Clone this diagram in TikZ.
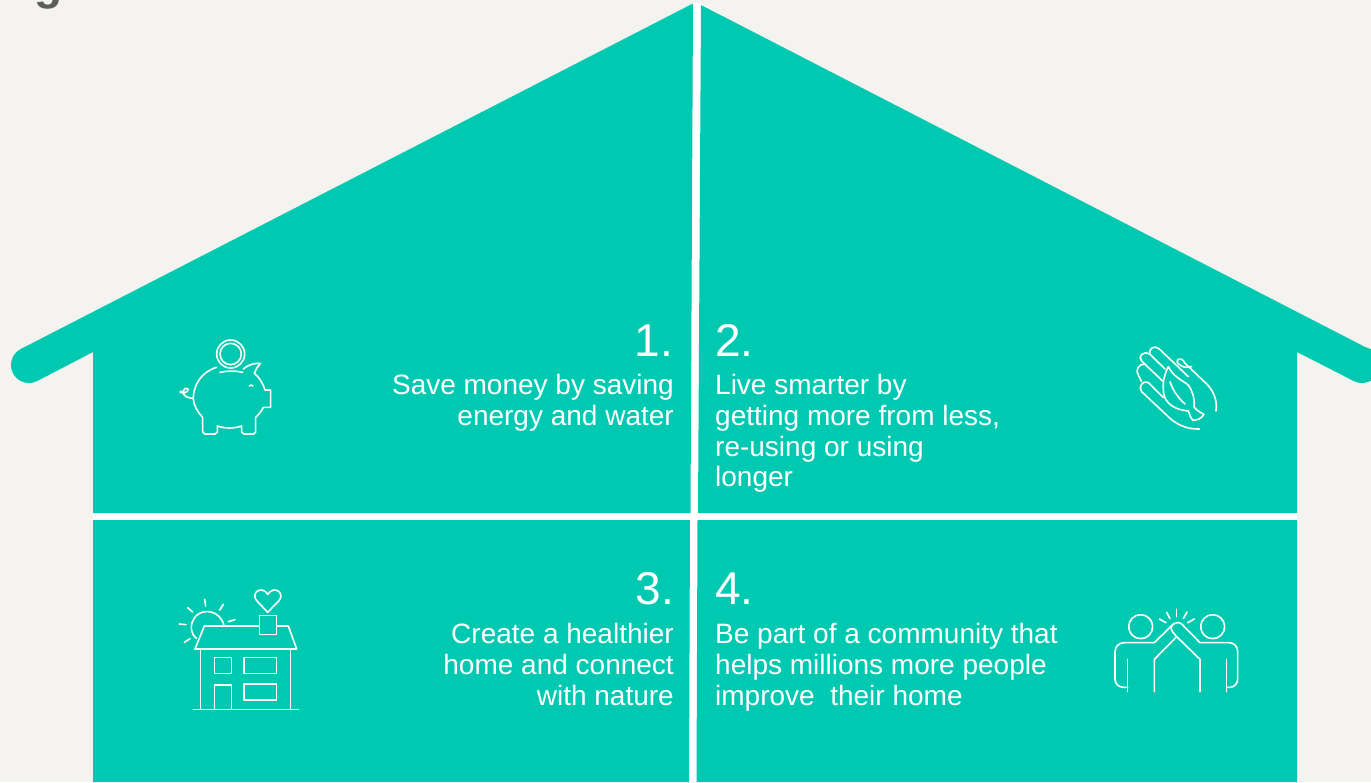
\documentclass[tikz,border=0pt]{standalone}
\usepackage{fontspec}
\setmainfont{Liberation Sans}
\definecolor{teal}{HTML}{00C9B2}
\definecolor{paper}{HTML}{F5F3EF}
\definecolor{headgrey}{HTML}{5E5E58}
\tikzset{
  panel/.style={fill=teal,draw=none},
  icon/.style={draw=white,line width=1.6pt,line cap=round,line join=round},
  bodyr/.style={anchor=north east,inner sep=0pt,align=right,text=white,font=\fontsize{28}{30.8}\selectfont},
  bodyl/.style={anchor=north west,inner sep=0pt,align=left,text=white,font=\fontsize{28}{30.8}\selectfont},
  numr/.style={anchor=base east,inner sep=0pt,text=white,font=\fontsize{46}{50}\selectfont},
  numl/.style={anchor=base west,inner sep=0pt,text=white,font=\fontsize{46}{50}\selectfont},
  zoomed/.style={x=0.3333pt,y=-0.3333pt}
}
\begin{document}
\begin{tikzpicture}[x=1pt,y=-1pt]
\clip (0,0) rectangle (1371,782);
\fill[paper] (0,0) rectangle (1371,782);
\node[anchor=base west,inner sep=0pt,text=headgrey,font=\fontsize{46}{50}\selectfont\bfseries] (heading) at (34,-1) {g};
% white gaps
\fill[white] (693,3) -- (701,3) -- (1297,352) -- (1297,520) -- (698,520) -- (697,782) -- (689,782) -- (690,520) -- (93,520) -- (93,513) -- (690,513) -- cycle;
% panels
\fill[panel] (693,3.5) -- (20.8,349) -- (37.2,381) -- (93,352) -- (93,513) -- (690.5,513) -- cycle;
\fill[panel] (29,365) circle[radius=18];
\fill[panel] (701,5) -- (1370,349.5) -- (1353.8,381) -- (1297,352) -- (1297,513) -- (698,513) -- cycle;
\fill[panel] (1362,365) circle[radius=18];
\fill[panel] (93,520) -- (690,520) -- (689,782) -- (93,782) -- cycle;
\fill[panel] (697.5,520) -- (1297,520) -- (1297,782) -- (696.5,782) -- cycle;
% text
\node[numr] (n1) at (673,356.5) {1.};
\node[numl] (n2) at (715,356.5) {2.};
\node[numr] (n3) at (674,604.5) {3.};
\node[numl] (n4) at (715,604.5) {4.};
\node[bodyr] (t1) at (674,374) {Save money by saving\\energy and water};
\node[bodyl] (t2) at (715,374) {Live smarter by\\getting more from less,\\re-using or using\\longer};
\node[bodyr] (t3) at (674,623) {Create a healthier\\home and connect\\with nature};
\node[bodyl] (t4) at (715,623) {Be part of a community that\\helps millions more people\\improve\ \ their home};
% piggy
\begin{scope}[shift={(160,330)},zoomed]
\draw[icon] (212,72) circle[radius=42];
\draw[icon] (212,72) circle[radius=32];
\draw[icon] (180,127) .. controls (205,122) and (225,122) .. (248,127);
\draw[icon] (170,112) .. controls (125,125) and (100,165) .. (100,205) .. controls (100,225) and (112,245) .. (128,262)
  -- (128,305) -- (134,312) -- (166,312) -- (172,306) -- (172,288) .. controls (195,296) and (222,296) .. (245,288)
  -- (245,306) -- (251,312) -- (281,312) -- (287,306) -- (287,262) .. controls (297,253) and (305,243) .. (310,232)
  -- (332,232) -- (332,180) -- (315,180) .. controls (308,158) and (298,142) .. (283,130)
  .. controls (288,118) and (293,108) .. (301,100) .. controls (285,99) and (268,102) .. (250,117);
\draw[icon] (268,168) .. controls (271,164) and (275,164) .. (279,168);
\draw[icon] (100,205) .. controls (85,205) and (72,198) .. (70,190) .. controls (66,182) and (58,182) .. (60,186) .. controls (66,192) and (84,188) .. (85,178) .. controls (80,172) and (68,176) .. (70,190);
\end{scope}
% hand and leaf
\begin{scope}[shift={(1120,335)},zoomed]
\draw[icon] (238,282) .. controls (205,283) and (175,272) .. (150,250) -- (65,170) .. controls (55,158) and (65,135) .. (85,143) -- (130,188);
\draw[icon] (65,140) -- (55,120) .. controls (45,108) and (55,85) .. (75,88) -- (130,140);
\draw[icon] (75,88) -- (65,78) .. controls (52,65) and (70,45) .. (90,58) -- (135,102);
\draw[icon] (90,58) .. controls (85,38) and (105,30) .. (118,42) -- (205,125);
\draw[icon] (195,85) -- (255,142) .. controls (280,165) and (293,195) .. (288,228);
\draw[icon] (195,85) .. controls (190,72) and (178,68) .. (172,76) .. controls (168,85) and (180,92) .. (195,97) -- (215,95);
\draw[icon] (145,95) .. controls (135,115) and (128,135) .. (130,165) .. controls (130,190) and (145,222) .. (205,228) .. controls (210,240) and (212,250) .. (218,256) .. controls (232,256) and (245,250) .. (252,238) .. controls (240,232) and (228,225) .. (222,215) .. controls (225,190) and (218,170) .. (205,150) .. controls (185,135) and (160,125) .. (145,95) -- cycle;
\draw[icon] (150,140) .. controls (158,165) and (175,190) .. (195,207);
\end{scope}
% house
\begin{scope}[shift={(170,580)},zoomed]
\draw[icon] (70,388) -- (385,388);
\draw[icon] (92,388) -- (92,208);
\draw[icon] (362,388) -- (362,208);
\draw[icon] (75,207) -- (380,207) -- (355,138) -- (320,138);
\draw[icon] (75,207) -- (103,138) -- (268,138);
\draw[icon] (268,107) rectangle (320,163);
\draw[icon] (134,233) rectangle (184,280);
\draw[icon] (222,233) rectangle (320,280);
\draw[icon] (222,312) rectangle (320,360);
\draw[icon] (134,388) -- (134,315) -- (184,315) -- (184,388);
\draw[icon] (293,97) -- (260,62) .. controls (245,42) and (262,28) .. (276,30) .. controls (285,32) and (290,37) .. (293,43) .. controls (297,37) and (302,32) .. (311,30) .. controls (325,28) and (342,42) .. (327,62) -- cycle;
\draw[icon] (80,176) .. controls (60,160) and (58,130) .. (78,108) .. controls (100,85) and (150,90) .. (162,136);
\draw[icon] (28,132) -- (48,134);
\draw[icon] (43,187) -- (60,176);
\draw[icon] (53,83) -- (68,96);
\draw[icon] (104,58) -- (107,78);
\draw[icon] (160,73) -- (149,90);
\draw[icon] (175,125) -- (195,119);
\end{scope}
% high five
\begin{scope}[shift={(1105,600)},zoomed]
\draw[icon] (107,80) circle[radius=36];
\draw[icon] (323,80) circle[radius=36];
\draw[icon] (68,275) -- (68,178);
\draw[icon] (365,275) -- (365,178);
\draw[icon] (68,262) -- (55,262) .. controls (40,262) and (30,250) .. (30,238) -- (30,155) .. controls (30,140) and (42,128) .. (58,128) -- (148,128) -- (205,72) .. controls (212,66) and (222,66) .. (230,72) -- (285,128) -- (372,128) .. controls (388,128) and (398,140) .. (398,155) -- (398,238) .. controls (398,250) and (388,262) .. (375,262) -- (365,262);
\draw[icon] (148,275) -- (148,178) -- (215,110) -- (285,178) -- (285,275);
\draw[icon] (215,110) -- (203,96) .. controls (195,85) and (198,76) .. (205,72);
\draw[icon] (163,57) -- (183,68);
\draw[icon] (185,37) -- (195,56);
\draw[icon] (215,28) -- (215,50);
\draw[icon] (246,36) -- (235,56);
\draw[icon] (268,57) -- (248,68);
\end{scope}
\end{tikzpicture}
\end{document}
